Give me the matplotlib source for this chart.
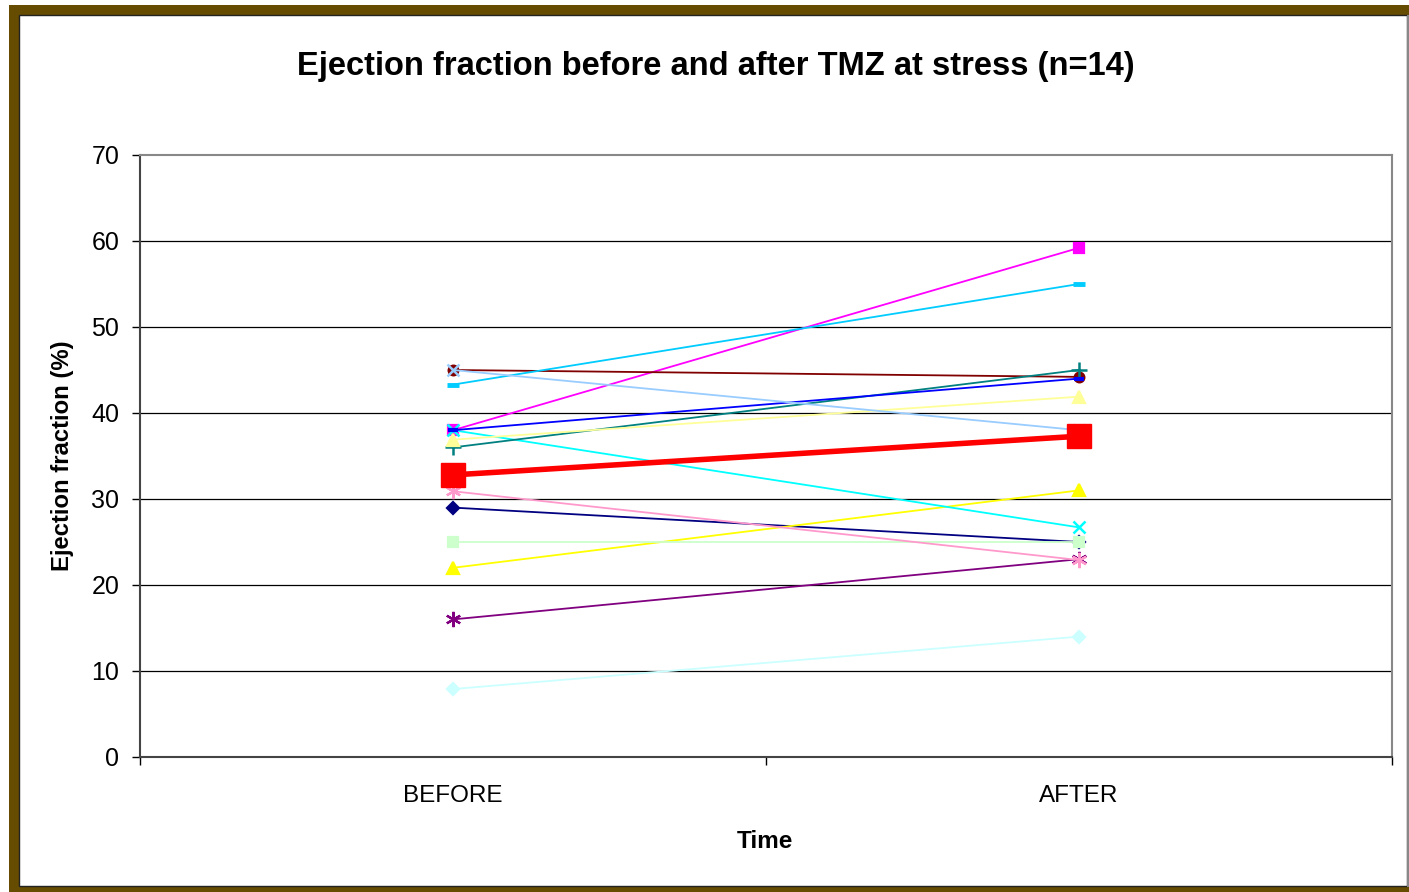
import matplotlib.pyplot as plt
from matplotlib.patches import Rectangle

plt.rcParams.update({
    "font.family": ["Liberation Sans", "DejaVu Sans"],
})

times = ['BEFORE', 'AFTER']
# (before, after) ejection fraction for each of the 14 patients
p1 = [29, 25]
p2 = [38, 59.2]
p3 = [22, 31]
p4 = [38, 26.7]
p5 = [16, 23]
p6 = [45, 44.2]
p7 = [36, 45]
p8 = [38, 44]
p9 = [43.3, 55]
p10 = [7.9, 14]
p11 = [25, 25]
p12 = [36.9, 41.9]
p13 = [45, 38]
p14 = [30.9, 22.9]
mean = [32.8, 37.3]

patients = [p1, p2, p3, p4, p5, p6, p7, p8, p9, p10, p11, p12, p13, p14]
colors = ['#000080', '#ff00ff', '#ffff00', '#00ffff', '#800080', '#800000', '#008080',
          '#0000ff', '#00ccff', '#ccffff', '#ccffcc', '#ffff99', '#99ccff', '#ff99cc']
markers = ['D', 's', '^', 'x', (6, 2, 0), 'o', '+', '_', '_', 'D', 's', '^', 'x', (6, 2, 0)]
msizes = [6, 7, 8, 9, 11, 7, 11, 7, 9, 6, 7, 8, 9, 11]
mews = [1.6, 1.6, 1.6, 1.8, 1.6, 1.6, 1.8, 3, 3.5, 1.6, 1.6, 1.6, 1.8, 1.6]

W, H = 1409, 892
fig = plt.figure(figsize=(W / 100, H / 100), dpi=100)

# chart-area frame
fig.patches.append(Rectangle((9 / W, 1 - 897 / H), 1.1, 892 / H, transform=fig.transFigure,
                             facecolor='#664c00', edgecolor='none', zorder=-10))
fig.patches.append(Rectangle((19 / W, 1 - 886 / H), (1407 - 19) / W, (886 - 15) / H,
                             transform=fig.transFigure, facecolor='white',
                             edgecolor='#222222', lw=1, zorder=-9))
fig.patches.append(Rectangle((1407 / W, 1 - 887 / H), 2 / W, 872 / H, transform=fig.transFigure,
                             facecolor='#888888', edgecolor='none', zorder=-8))

ax = fig.add_axes([140 / W, 1 - 757 / H, (1392 - 140) / W, (757 - 155) / H])
ax.patch.set_alpha(0)
x = list(range(len(times)))

for vals, c, m, ms, mw in zip(patients, colors, markers, msizes, mews):
    ax.plot(x, vals, color=c, lw=1.3, marker=m, markersize=ms, markeredgewidth=mw,
            markerfacecolor=c, markeredgecolor=c, zorder=3)
ax.plot(x, mean, color='#ff0000', lw=4, marker='s', markersize=17, zorder=4)

ax.set_xlim(-0.5, 1.5)
ax.set_ylim(0, 70)
ax.set_yticks(range(0, 71, 10))
ax.set_xticks(x)
ax.set_xticklabels(times)
ax.set_xticks([-0.5, 0.5, 1.5], minor=True)
ax.tick_params(axis='x', which='major', length=0, pad=20, labelsize=17.5)
ax.tick_params(axis='x', which='minor', length=6, width=1)
ax.tick_params(axis='y', length=6, width=1, pad=9, labelsize=18)

for v in range(10, 70, 10):
    ax.axhline(v, color='black', lw=0.9, zorder=1)

ax.spines['top'].set_color('#888888')
ax.spines['right'].set_color('#888888')
ax.spines['left'].set_color('#444444')
ax.spines['bottom'].set_color('#444444')
for s in ax.spines.values():
    s.set_linewidth(1.5)

fig.text(716 / W, 1 - 66 / H, 'Ejection fraction before and after TMZ at stress (n=14)',
         fontsize=23.5, fontweight='bold', ha='center', va='center')
fig.text(765 / W, 1 - 842 / H, 'Time', fontsize=17.5, fontweight='bold',
         ha='center', va='center')
fig.text(62 / W, 1 - 456 / H, 'Ejection fraction (%)', fontsize=17.2, fontweight='bold',
         ha='center', va='center', rotation=90)

fig.savefig('out.png', dpi=100)
